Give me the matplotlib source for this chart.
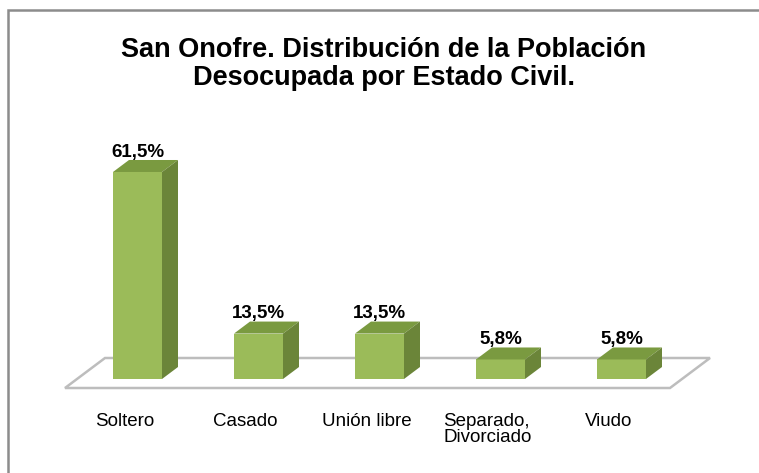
import matplotlib.pyplot as plt
from matplotlib.patches import Polygon, Rectangle

plt.rcParams['font.family'] = ['Liberation Sans', 'DejaVu Sans']

## datos
categorias = ['Soltero', 'Casado', 'Unión libre', 'Separado,\nDivorciado', 'Viudo']
valores = [61.5, 13.5, 13.5, 5.8, 5.8]
etiquetas = ['61,5%', '13,5%', '13,5%', '5,8%', '5,8%']
titulo = 'San Onofre. Distribución de la Población\nDesocupada por Estado Civil.'

W, H = 759, 473
fig = plt.figure(figsize=(W / 100, H / 100), dpi=100)

# marco exterior (solo se ve arriba e izquierda)
fig.patches.append(Rectangle((8 / W, -0.1), 1.2, (H - 10) / H + 0.1,
                             transform=fig.transFigure, fill=False,
                             ec='#8c8c8c', lw=1.8))

fig.text(384 / W, 1 - 64 / H, titulo, ha='center', va='center',
         fontsize=19.5, fontweight='bold', linespacing=1.12)

k = 3.366          # px por unidad
cw = 121           # px por categoria
ax = fig.add_axes([77 / W, 73 / H, 605 / W, 270 / H])
ax.set_xlim(-0.5, 4.5)
ax.set_ylim(-21 / k, 249 / k)
ax.axis('off')

x = list(range(len(valores)))
w = 49 / cw
ddx, ddy = 16 / cw, 12 / k

# piso
fy, by = -9 / k, 21 / k
fx0, fx1 = -0.5 - 12 / cw, 4.5 - 12 / cw
bx0, bx1 = -0.5 + 28 / cw, 4.5 + 28 / cw
ax.add_patch(Polygon([(fx0, fy), (fx1, fy), (bx1, by), (bx0, by)], closed=True,
                     fc='white', ec='#bdbdbd', lw=1.8, clip_on=False, zorder=1))

frente = '#9bbb59'
lado = '#6b8539'
tapa = '#7a9a40'
ax.bar(x, valores, width=w, color=frente, zorder=3)
for xi, v in zip(x, valores):
    l, r = xi - w / 2, xi + w / 2
    ax.add_patch(Polygon([(l, v), (r, v), (r + ddx, v + ddy), (l + ddx, v + ddy)],
                         fc=tapa, ec='none', zorder=3, clip_on=False))
    ax.add_patch(Polygon([(r, 0), (r + ddx, ddy), (r + ddx, v + ddy), (r, v)],
                         fc=lado, ec='none', zorder=3, clip_on=False))

for xi, v, t in zip(x, valores, etiquetas):
    ax.text(xi, v + ddy - 0.2, t, ha='center', va='bottom', fontsize=13.5,
            fontweight='bold', clip_on=False)

for xi, c in zip(x, categorias):
    ax.text(xi - 13 / cw, -34 / k, c, ha='center', va='top', fontsize=13.5,
            linespacing=0.95, multialignment='left', clip_on=False)

fig.savefig('out.png', dpi=100)
